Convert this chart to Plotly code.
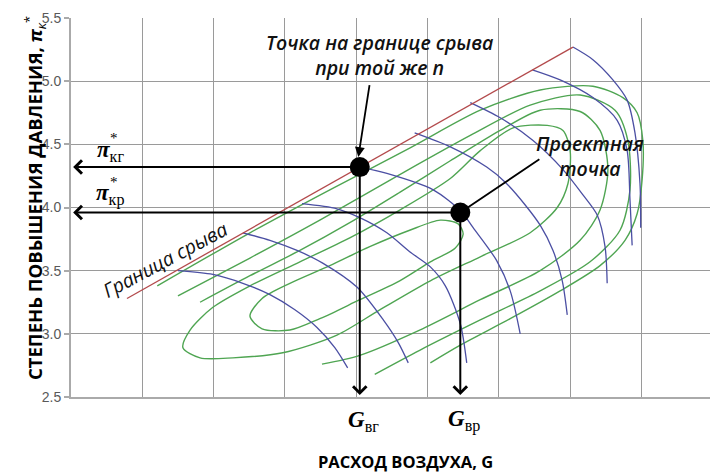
import plotly.graph_objects as go

# Compressor map: air flow G (grid units) vs pressure ratio pi_k*

# Surge (stall) boundary
stall_g = [0.785, 7.04]
stall_pi = [3.28, 5.27]

# Constant-speed lines (start on the surge boundary)
speed_g = [
    [1.50, 1.99, 2.41, 2.79, 3.14, 3.45, 3.70, 3.88],
    [2.41, 2.79, 3.17, 3.53, 4.01, 4.38, 4.59, 4.73],
    [3.24, 3.73, 4.05, 4.43, 4.75, 5.04, 5.25, 5.46, 5.55],
    [4.05, 4.43, 5.08, 5.47, 5.64, 5.97, 6.16, 6.30],
    [4.82, 5.32, 5.83, 6.09, 6.37, 6.58, 6.76, 6.89, 6.96],
    [5.60, 6.02, 6.48, 6.90, 7.18, 7.38, 7.49, 7.52],
    [6.47, 6.86, 7.32, 7.66, 7.80, 7.84, 7.87],
    [7.04, 7.32, 7.60, 7.80, 7.91, 7.98, 7.99],
]
speed_pi = [
    [3.50, 3.47, 3.40, 3.31, 3.19, 3.05, 2.89, 2.73],
    [3.80, 3.74, 3.66, 3.56, 3.37, 3.11, 2.93, 2.77],
    [4.03, 3.99, 3.92, 3.80, 3.65, 3.53, 3.38, 3.08, 2.77],
    [4.32, 4.27, 4.14, 3.97, 3.84, 3.58, 3.34, 3.00],
    [4.59, 4.48, 4.32, 4.20, 4.02, 3.86, 3.66, 3.42, 3.15],
    [4.83, 4.71, 4.53, 4.30, 4.10, 3.94, 3.69, 3.40],
    [5.09, 5.01, 4.87, 4.69, 4.45, 4.06, 3.70],
    [5.27, 5.17, 5.01, 4.85, 4.59, 4.19, 3.84],
]

# Constant-efficiency contours
eff_g = [
    [2.51, 2.68, 3.07, 3.63, 4.19, 4.75, 5.18, 5.43, 5.50, 5.39, 5.04, 4.61, 4.05, 3.49, 3.07, 2.68, 2.51],
    [1.57, 1.67, 1.99, 2.51, 3.21, 3.91, 4.61, 5.32, 5.74, 6.20, 6.68, 6.90, 7.00, 6.97, 6.82, 6.44, 5.74,
     5.04, 4.33, 3.73, 2.97, 2.27, 1.81, 1.57],
    [1.81, 2.51, 3.21, 3.91, 4.61, 5.32, 6.02, 6.58, 7.14, 7.42, 7.53, 7.42, 7.14, 6.58, 5.74, 4.89, 4.05, 3.52],
    [1.50, 2.51, 3.49, 4.61, 5.60, 6.44, 7.14, 7.63, 7.81, 7.84, 7.70, 7.28, 6.58, 5.74, 4.89, 4.26],
    [1.21, 2.51, 3.63, 4.75, 5.74, 6.58, 7.32, 7.74, 7.94, 8.02, 8.01, 7.94, 7.77, 7.42, 6.86, 6.16, 5.46, 5.04],
]
eff_pi = [
    [3.14, 3.28, 3.40, 3.54, 3.69, 3.82, 3.90, 3.87, 3.79, 3.68, 3.57, 3.42, 3.27, 3.12, 3.03, 3.04, 3.14],
    [2.89, 3.03, 3.21, 3.38, 3.57, 3.76, 3.98, 4.23, 4.45, 4.63, 4.65, 4.61, 4.45, 4.19, 4.00, 3.80, 3.61,
     3.42, 3.19, 2.99, 2.85, 2.81, 2.81, 2.89],
    [3.25, 3.46, 3.66, 3.88, 4.12, 4.37, 4.61, 4.77, 4.76, 4.61, 4.30, 3.98, 3.74, 3.50, 3.27, 3.03, 2.83, 2.76],
    [3.30, 3.60, 3.90, 4.26, 4.57, 4.81, 4.89, 4.77, 4.53, 4.14, 3.82, 3.57, 3.34, 3.11, 2.87, 2.68],
    [3.38, 3.80, 4.14, 4.47, 4.77, 4.93, 4.96, 4.87, 4.75, 4.53, 4.22, 3.95, 3.74, 3.54, 3.34, 3.12, 2.91, 2.77],
]

# Design point and surge point at the same speed
design_g, design_pi = 5.46, 3.96
surge_g, surge_pi = 4.05, 4.32

y_ticks = [2.5, 3.0, 3.5, 4.0, 4.5, 5.0, 5.5]

GREEN = "#4fa552"
BLUE = "#4b4fa3"
RED = "#b34a4c"

fig = go.Figure()

for xs, ys in zip(eff_g, eff_pi):
    fig.add_trace(go.Scatter(x=xs, y=ys, mode="lines", line=dict(color=GREEN, width=1.4, shape="spline", smoothing=0.8),
                             hoverinfo="skip"))
for xs, ys in zip(speed_g, speed_pi):
    fig.add_trace(go.Scatter(x=xs, y=ys, mode="lines", line=dict(color=BLUE, width=1.3, shape="spline", smoothing=0.8),
                             hoverinfo="skip"))
fig.add_trace(go.Scatter(x=stall_g, y=stall_pi, mode="lines", line=dict(color=RED, width=1.3), hoverinfo="skip"))

fig.add_trace(go.Scatter(x=[surge_g, design_g], y=[surge_pi, design_pi], mode="markers",
                         marker=dict(color="black", size=20), hoverinfo="skip"))

anns = []
# projection arrows to the axes
for (gx, py) in [(surge_g, surge_pi), (design_g, design_pi)]:
    anns.append(dict(x=0.03, y=py, ax=gx, ay=py, xref="x", yref="y", axref="x", ayref="y", text="",
                     showarrow=True, arrowhead=4, arrowsize=1.3, arrowwidth=2, arrowcolor="black"))
    anns.append(dict(x=gx, y=2.515, ax=gx, ay=py, xref="x", yref="y", axref="x", ayref="y", text="",
                     showarrow=True, arrowhead=4, arrowsize=1.3, arrowwidth=2, arrowcolor="black"))

# pointer lines from the captions
anns.append(dict(x=4.03, y=4.40, ax=4.19, ay=4.98, xref="x", yref="y", axref="x", ayref="y", text="",
                 showarrow=True, arrowhead=2, arrowsize=1.1, arrowwidth=1.8, arrowcolor="black"))
anns.append(dict(x=design_g, y=design_pi, ax=6.59, ay=4.39, xref="x", yref="y", axref="x", ayref="y", text="",
                 showarrow=True, arrowhead=0, arrowwidth=1.8, arrowcolor="black"))

cap_font = dict(family="Open Sans", size=19.5, color="#111111", weight=600)
anns.append(dict(x=4.32, y=5.21, xref="x", yref="y", text="<i>Точка на границе срыва<br>при той же n</i>",
                 showarrow=False, font=cap_font, align="center"))
anns.append(dict(x=7.28, y=4.41, xref="x", yref="y", text="<i>Проектная<br>точка</i>",
                 showarrow=False, font=cap_font, align="center"))
anns.append(dict(x=1.32, y=3.59, xref="x", yref="y", text="<i>Граница срыва</i>", textangle=-28,
                 showarrow=False, font=dict(family="Open Sans", size=19.5, color="#111111")))

serif = "Liberation Serif"
anns.append(dict(x=0.55, y=4.45, xref="x", yref="y", text="<b><i>π</i></b><sub>кг</sub>",
                 showarrow=False, font=dict(family=serif, size=23, color="black")))
anns.append(dict(x=0.60, y=4.55, xref="x", yref="y", text="*",
                 showarrow=False, font=dict(family=serif, size=15, color="black")))
anns.append(dict(x=0.55, y=4.10, xref="x", yref="y", text="<b><i>π</i></b><sub>кр</sub>",
                 showarrow=False, font=dict(family=serif, size=23, color="black")))
anns.append(dict(x=0.60, y=4.20, xref="x", yref="y", text="*",
                 showarrow=False, font=dict(family=serif, size=15, color="black")))
anns.append(dict(x=surge_g + 0.05, y=-0.105, xref="x", yref="paper", text="<b><i>G</i></b><sub>вг</sub>",
                 showarrow=False, font=dict(family=serif, size=23, color="black")))
anns.append(dict(x=design_g + 0.05, y=-0.105, xref="x", yref="paper", text="<b><i>G</i></b><sub>вр</sub>",
                 showarrow=False, font=dict(family=serif, size=23, color="black")))

anns.append(dict(x=0.523, y=-0.205, xref="paper", yref="paper", text="<b>РАСХОД ВОЗДУХА, G</b>",
                 showarrow=False, font=dict(family="Open Sans", size=16.5, color="black")))
anns.append(dict(x=-0.083, y=0.525, xref="paper", yref="paper", textangle=-90,
                 text="<b>СТЕПЕНЬ ПОВЫШЕНИЯ ДАВЛЕНИЯ, </b><b><i>π</i></b><sub><i>к</i></sub><sup>*</sup>",
                 showarrow=False, font=dict(family="Open Sans", size=18.5, color="black")))

fig.update_layout(
    width=710, height=473,
    margin=dict(l=71, r=0, t=18, b=76),
    plot_bgcolor="white", paper_bgcolor="white",
    showlegend=False,
    annotations=anns,
)
fig.update_xaxes(range=[0, 8.962], tick0=0, dtick=1, showticklabels=False, showgrid=True,
                 gridcolor="#9a9a9a", gridwidth=1.3, zeroline=False,
                 showline=True, linecolor="#aaaaaa", linewidth=2)
fig.update_yaxes(range=[2.5, 5.5], tickvals=y_ticks, ticktext=[f"{v:.1f}" for v in y_ticks],
                 showgrid=True, gridcolor="#9a9a9a", gridwidth=1.3, zeroline=False,
                 showline=True, linecolor="#aaaaaa", linewidth=2,
                 ticks="outside", ticklen=5, tickcolor="#aaaaaa", tickwidth=2,
                 tickfont=dict(family="Liberation Sans", size=14, color="#595959"))

fig.write_html("out.html")
